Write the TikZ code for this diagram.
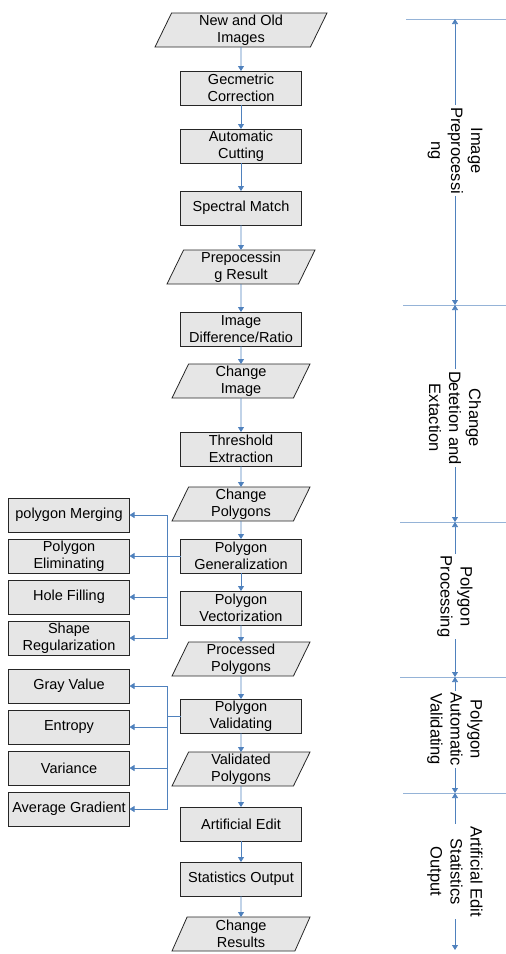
\documentclass[tikz,border=0pt]{standalone}
\usepackage{fontspec}
\setmainfont{Liberation Sans}
\usetikzlibrary{positioning,shapes.geometric,arrows.meta}

\definecolor{flowblue}{HTML}{4F81BD}
\definecolor{seplight}{HTML}{95B3D7}
\definecolor{boxgray}{HTML}{E6E6E6}

\tikzset{
  process/.style={draw=black!85, line width=0.8pt, fill=boxgray, minimum width=121pt,
    minimum height=34pt, inner sep=1pt, outer sep=0pt, align=center,
    font=\fontsize{14.5}{17}\selectfont},
  data/.style={trapezium, trapezium left angle=63, trapezium right angle=117,
    trapezium stretches body, draw=black!85, line width=0.8pt, fill=boxgray,
    minimum width=138pt, minimum height=34pt, inner sep=1pt, outer sep=0pt,
    align=center, font=\fontsize{14.5}{17}\selectfont},
  flow/.style={draw=flowblue, line width=0.75pt, -{Triangle[width=6pt,length=5pt]}},
  bus/.style={draw=flowblue, line width=0.75pt},
  sepline/.style={draw=seplight, line width=1pt},
  dimarrow/.style={draw=flowblue, line width=0.75pt,
    {Triangle[width=6pt,length=5pt]}-{Triangle[width=6pt,length=5pt]}},
  phase/.style={rotate=-90, fill=white, inner sep=2pt, align=center,
    font=\fontsize{16.5}{20}\selectfont}
}

\begin{document}
\begin{tikzpicture}
  \useasboundingbox (0,0) rectangle (506pt,-954pt);

  % Main flow
  \node[data, minimum width=172pt] (inp) at (241pt,-30pt) {New and Old\\Images};
  \node[process, below=24pt of inp]    (geo)    {Gecmetric\\Correction};
  \node[process, below=24pt of geo]    (cut)    {Automatic\\Cutting};
  \node[process, below=28pt of cut]    (spec)   {Spectral Match};
  \node[data, minimum width=148pt, below=25pt of spec] (pre) {Prepocessin\\g Result};
  \node[process, below=28pt of pre]    (diff)   {Image\\Difference/Ratio};
  \node[data, below=18pt of diff]      (chimg)  {Change\\Image};
  \node[process, below=34pt of chimg]  (thr)    {Threshold\\Extraction};
  \node[data, below=21pt of thr]       (chpoly) {Change\\Polygons};
  \node[process, below=18pt of chpoly] (gen)    {Polygon\\Generalization};
  \node[process, below=18pt of gen]    (vec)    {Polygon\\Vectorization};
  \node[data, below=17pt of vec]       (procd)  {Processed\\Polygons};
  \node[process, below=23pt of procd]  (val)    {Polygon\\Validating};
  \node[data, below=19pt of val]       (valpoly) {Validated\\Polygons};
  \node[process, below=21pt of valpoly] (edit)  {Artificial Edit};
  \node[process, below=21pt of edit]   (stat)   {Statistics Output};
  \node[data, below=21pt of stat]      (res)    {Change\\Results};

  % Side boxes
  \node[process, left=51pt of gen]     (elim)   {Polygon\\Eliminating};
  \node[process, above=7pt of elim]    (merge)  {polygon Merging};
  \node[process, below=7pt of elim]    (hole)   {Hole Filling};
  \node[process, below=7pt of hole]    (shape)  {Shape\\Regularization};
  \node[process, below=14pt of shape]  (gray)   {Gray Value};
  \node[process, below=7pt of gray]    (entr)   {Entropy};
  \node[process, below=7pt of entr]    (vari)   {Variance};
  \node[process, below=7pt of vari]    (grad)   {Average Gradient};

  % Connect the main flow
  \foreach \a/\b in {inp/geo, geo/cut, cut/spec, spec/pre, pre/diff, diff/chimg,
    chimg/thr, thr/chpoly, chpoly/gen, gen/vec, vec/procd, procd/val, val/valpoly,
    valpoly/edit, edit/stat, stat/res}
    \draw[flow] (\a) -- (\b);

  % Branches to the side boxes
  \draw[bus] (gen.west) -- ++(-13pt,0) coordinate (busA);
  \draw[bus] (busA |- merge.east) -- (busA |- shape.east);
  \foreach \n in {merge, elim, hole, shape}
    \draw[flow] (busA |- \n.east) -- (\n.east);

  \draw[bus] (val.west) -- ++(-13pt,0) coordinate (busB);
  \draw[bus] (busB |- gray.east) -- (busB |- grad.east);
  \foreach \n in {gray, entr, vari, grad}
    \draw[flow] (busB |- \n.east) -- (\n.east);

  % Phases on the right
  \coordinate (sep0) at (455pt,-19pt);
  \coordinate (sep1) at (455pt,-305pt);
  \coordinate (sep2) at (455pt,-522pt);
  \coordinate (sep3) at (455pt,-677pt);
  \coordinate (sep4) at (455pt,-793pt);
  \coordinate (sep5) at (455pt,-950pt);

  \draw[sepline] (406pt,-19pt) -- (506pt,-19pt);
  \draw[sepline] (403pt,-305pt) -- (506pt,-305pt);
  \draw[sepline] (400pt,-522pt) -- (506pt,-522pt);
  \draw[sepline] (400pt,-677pt) -- (506pt,-677pt);
  \draw[sepline] (403pt,-793pt) -- (506pt,-793pt);

  \draw[dimarrow] (sep0) -- (sep1) node[phase, pos=0.46] {Image\\Preprocessi\\ng};
  \draw[dimarrow] (sep1) -- (sep2) node[phase, pos=0.52] {Change\\Detetion and\\Extaction};
  \draw[dimarrow] (sep2) -- (sep3) node[phase, pos=0.48] {Polygon\\Processing};
  \draw[dimarrow] (sep3) -- (sep4) node[phase, pos=0.45] {Polygon\\Automatic\\Validating};
  \draw[dimarrow] (sep4) -- (sep5) node[phase, midway] {Artificial Edit\\Statistics\\Output};
\end{tikzpicture}
\end{document}
